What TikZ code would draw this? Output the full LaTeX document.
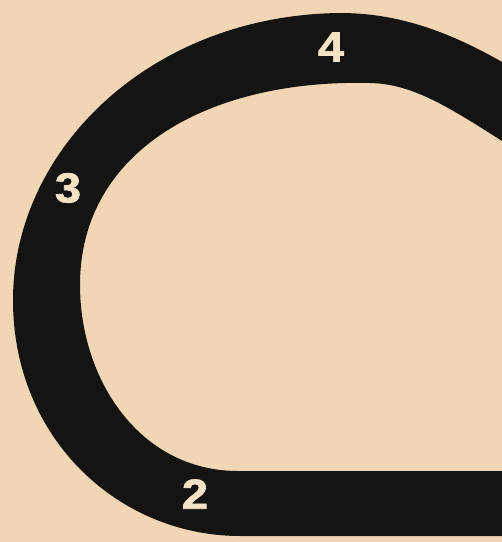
\documentclass[tikz,border=0pt]{standalone}
\usepackage{fontspec}
\setmainfont{Liberation Sans}
\newfontfamily\markfont{Liberation Sans}[FakeStretch=1.12, BoldFeatures={FakeBold=1.6}]
\usepackage{tikz}
\usetikzlibrary{positioning}
\usepackage{xcolor}
\definecolor{paper}{HTML}{F1D6B6}
\definecolor{ink}{HTML}{151412}
\definecolor{chalk}{HTML}{F5E3C6}

\begin{document}
\begin{tikzpicture}[x=1pt, y=-1pt,
        track/.style={fill=ink, even odd rule},
        marker/.style={text=chalk, font=\markfont\fontsize{42}{42}\bfseries\selectfont, inner sep=0pt}]

        % Background
        \fill[paper] (0,0) rectangle (502,542);
        \clip (0,0) rectangle (502,542);

        % Track: outer edge, then inner edge back
        \fill[track]
            (540,85) .. controls (470,40) and (410,13) .. (340,13)
            .. controls (150,15) and (13,150) .. (13,300)
            .. controls (13,440) and (120,536) .. (240,536)
            -- (540,536) -- (540,471) -- (238,471)
            .. controls (140,471) and (80,380) .. (80,285)
            .. controls (80,150) and (210,79) .. (370,83)
            .. controls (420,84) and (460,115) .. (540,165)
            -- cycle;

        % Labels
        \node[marker] (n4) at (331,47) {4};
        \node[marker] (n3) at (68,188) {3};
        \node[marker] (n2) at (195,494) {2};
    \end{tikzpicture}
\end{document}
